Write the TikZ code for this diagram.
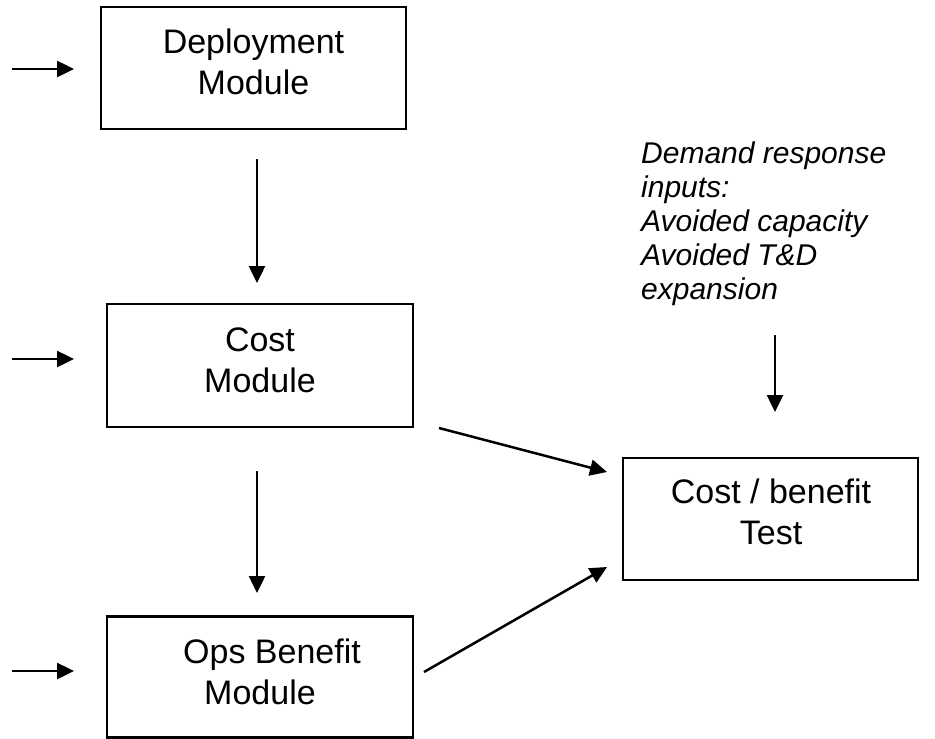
\documentclass[tikz,border=0pt]{standalone}
\usepackage{fontspec}
\setmainfont{Liberation Sans}
\usetikzlibrary{arrows.meta}
\begin{document}
\begin{tikzpicture}[x=1pt,y=-1pt,
  box/.style={draw=black, line width=2.6pt, inner sep=0pt},
  boxtext/.style={anchor=base, align=center, inner sep=0pt,
    font=\fontsize{34}{41.5}\selectfont},
  note/.style={anchor=base west, align=left, inner sep=0pt,
    font=\fontsize{30}{34}\selectfont\itshape},
  arr/.style={line width=2.5pt, -{Triangle[length=17pt,width=16pt]}}]
\useasboundingbox[fill=white] (0,0) rectangle (935,739);

% boxes
\node[box, minimum width=305pt, minimum height=122pt] (dep) at (253.5,68) {};
\node[box, minimum width=306pt, minimum height=123pt] (cost) at (260,365.5) {};
\node[box, minimum width=306pt, minimum height=121pt] (ops) at (260,677) {};
\node[box, minimum width=295pt, minimum height=122pt] (cb) at (770.5,519) {};

% box texts (anchor = baseline of last line)
\node[boxtext] (deptext) at (253.5,94.5) {Deployment\\Module};
\node[boxtext] (costtext) at (260,392.5) {Cost\\Module};
\node[boxtext] (opstext) at (260,704.5) {\hspace*{24pt}Ops Benefit\\Module};
\node[boxtext] (cbtext) at (771,544.5) {Cost / benefit\\Test};

% demand response note
\node[note] (dr) at (641,299) {Demand response\\inputs:\\Avoided capacity\\Avoided T\&D\\expansion};

% arrow end points
\coordinate (in1) at (12,69);   \coordinate (in1e) at (74,69);
\coordinate (in2) at (12,359);  \coordinate (in2e) at (74,359);
\coordinate (in3) at (12,671);  \coordinate (in3e) at (74,671);
\coordinate (v1s) at (257,159); \coordinate (v1e) at (257,283);
\coordinate (v2s) at (257,471); \coordinate (v2e) at (257,593);
\coordinate (d1s) at (439,428); \coordinate (d1e) at (607,472);
\coordinate (d2s) at (424,672); \coordinate (d2e) at (607,567);
\coordinate (drs) at (775,335); \coordinate (dre) at (775,412);

\draw[arr] (in1) -- (in1e);
\draw[arr] (in2) -- (in2e);
\draw[arr] (in3) -- (in3e);
\draw[arr] (v1s) -- (v1e);
\draw[arr] (v2s) -- (v2e);
\draw[arr] (d1s) -- (d1e);
\draw[arr] (d2s) -- (d2e);
\draw[arr] (drs) -- (dre);
\end{tikzpicture}
\end{document}
